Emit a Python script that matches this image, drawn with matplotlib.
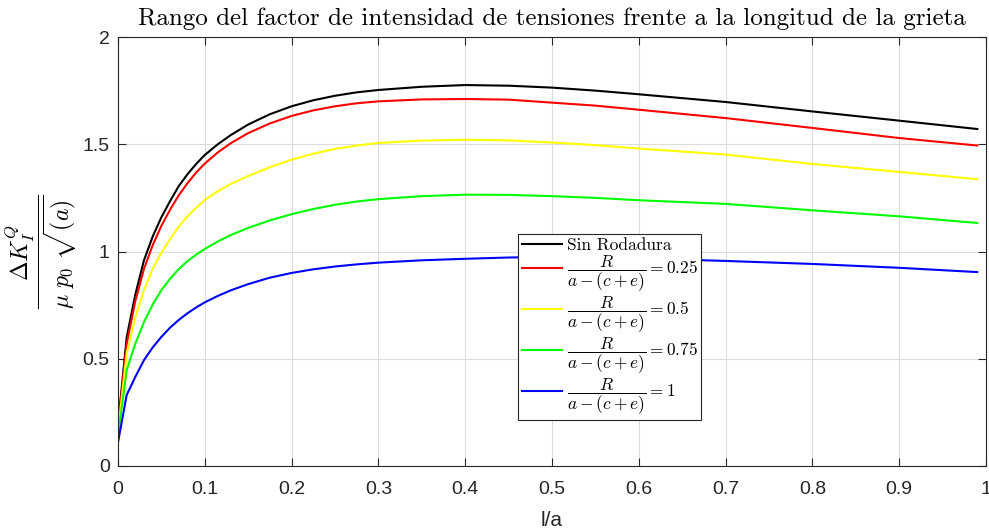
import matplotlib
matplotlib.use("Agg")
import matplotlib.pyplot as plt

plt.rcParams['mathtext.fontset'] = 'cm'
plt.rcParams['font.family'] = ['Liberation Sans', 'DejaVu Sans']

# Normalised crack length l/a
l_a = [0, 0.01, 0.02, 0.03, 0.04, 0.05, 0.06, 0.07, 0.08, 0.09, 0.1, 0.115, 0.13, 0.15,
       0.175, 0.2, 0.225, 0.25, 0.275, 0.3, 0.35, 0.4, 0.45, 0.5, 0.55, 0.6, 0.7, 0.8,
       0.9, 0.99]

# Normalised stress intensity factor range for each rolling ratio
k_sin_rodadura = [0.19, 0.60, 0.80, 0.96, 1.07, 1.16, 1.235, 1.305, 1.36, 1.408, 1.45, 1.50,
                  1.543, 1.592, 1.64, 1.677, 1.705, 1.726, 1.742, 1.753, 1.768, 1.776, 1.773,
                  1.764, 1.75, 1.733, 1.697, 1.653, 1.610, 1.571]
k_r025 = [0.18, 0.57, 0.77, 0.92, 1.03, 1.12, 1.195, 1.262, 1.318, 1.368, 1.41, 1.462, 1.505,
          1.552, 1.597, 1.632, 1.658, 1.677, 1.691, 1.700, 1.709, 1.711, 1.708, 1.694, 1.68,
          1.661, 1.622, 1.576, 1.529, 1.494]
k_r050 = [0.16, 0.525, 0.695, 0.82, 0.92, 0.994, 1.058, 1.115, 1.164, 1.204, 1.24, 1.281,
          1.315, 1.352, 1.393, 1.428, 1.456, 1.478, 1.494, 1.506, 1.517, 1.521, 1.518, 1.508,
          1.496, 1.480, 1.452, 1.408, 1.371, 1.337]
k_r075 = [0.14, 0.447, 0.571, 0.672, 0.753, 0.82, 0.873, 0.918, 0.955, 0.985, 1.012, 1.047,
          1.077, 1.11, 1.145, 1.174, 1.198, 1.218, 1.233, 1.244, 1.258, 1.265, 1.264, 1.258,
          1.25, 1.239, 1.222, 1.192, 1.164, 1.133]
k_r100 = [0.11, 0.331, 0.416, 0.494, 0.553, 0.602, 0.645, 0.681, 0.712, 0.739, 0.763, 0.793,
          0.819, 0.848, 0.878, 0.90, 0.917, 0.930, 0.940, 0.948, 0.959, 0.966, 0.972, 0.975,
          0.973, 0.968, 0.956, 0.942, 0.924, 0.904]

series = [
    (k_sin_rodadura, 'black', 'Sin Rodadura'),
    (k_r025, 'red', r'$\dfrac{R}{a-(c+e)} = 0.25$'),
    (k_r050, '#ffff00', r'$\dfrac{R}{a-(c+e)} = 0.5$'),
    (k_r075, '#00ff00', r'$\dfrac{R}{a-(c+e)} = 0.75$'),
    (k_r100, '#0000ff', r'$\dfrac{R}{a-(c+e)} = 1$'),
]

x_ticks = [0, 0.1, 0.2, 0.3, 0.4, 0.5, 0.6, 0.7, 0.8, 0.9, 1]
x_tick_labels = ['0', '0.1', '0.2', '0.3', '0.4', '0.5', '0.6', '0.7', '0.8', '0.9', '1']
y_ticks = [0, 0.5, 1, 1.5, 2]
y_tick_labels = ['0', '0.5', '1', '1.5', '2']

fig = plt.figure(figsize=(9.89, 5.31), dpi=100)
ax = fig.add_axes([118 / 989, 1 - 466 / 531, (986 - 118) / 989, (466 - 37) / 531])

for values, color, label in series:
    ax.plot(l_a, values, color=color, lw=1.5, label=label)

ax.set_xlim(0, 1)
ax.set_ylim(0, 2)
ax.set_xticks(x_ticks)
ax.set_xticklabels(x_tick_labels)
ax.set_yticks(y_ticks)
ax.set_yticklabels(y_tick_labels)

edge = '#262626'
for s in ax.spines.values():
    s.set_color(edge)
    s.set_linewidth(0.8)
ax.tick_params(direction='in', length=6, width=0.8, color=edge, labelsize=14,
               labelcolor='#262626', top=True, right=True)
ax.tick_params(axis='x', pad=11)
ax.tick_params(axis='y', pad=6)
ax.grid(True, color='#dcdcdc', lw=0.8)
ax.set_axisbelow(True)

ax.set_title('Rango del factor de intensidad de tensiones frente a la longitud de la grieta',
             fontfamily='cmr10', fontsize=18, pad=9)
ax.set_xlabel('l/a', fontsize=15, color='#262626', labelpad=9)
ax.set_ylabel(r'$\dfrac{\Delta K_I^Q}{\mu\ p_0\ \sqrt{(a)}}$', fontsize=17)
ax.yaxis.set_label_coords(-0.045, 0.5)

leg = ax.legend(loc='upper left', bbox_to_anchor=(0.461, 0.541), fancybox=False,
                framealpha=1, edgecolor='#262626', borderpad=0.2, labelspacing=0.05,
                handlelength=2.3, handletextpad=0.3, borderaxespad=0,
                prop={'family': 'cmr10', 'size': 12.5})
leg.get_frame().set_linewidth(0.8)

fig.savefig('out.png', dpi=100)
